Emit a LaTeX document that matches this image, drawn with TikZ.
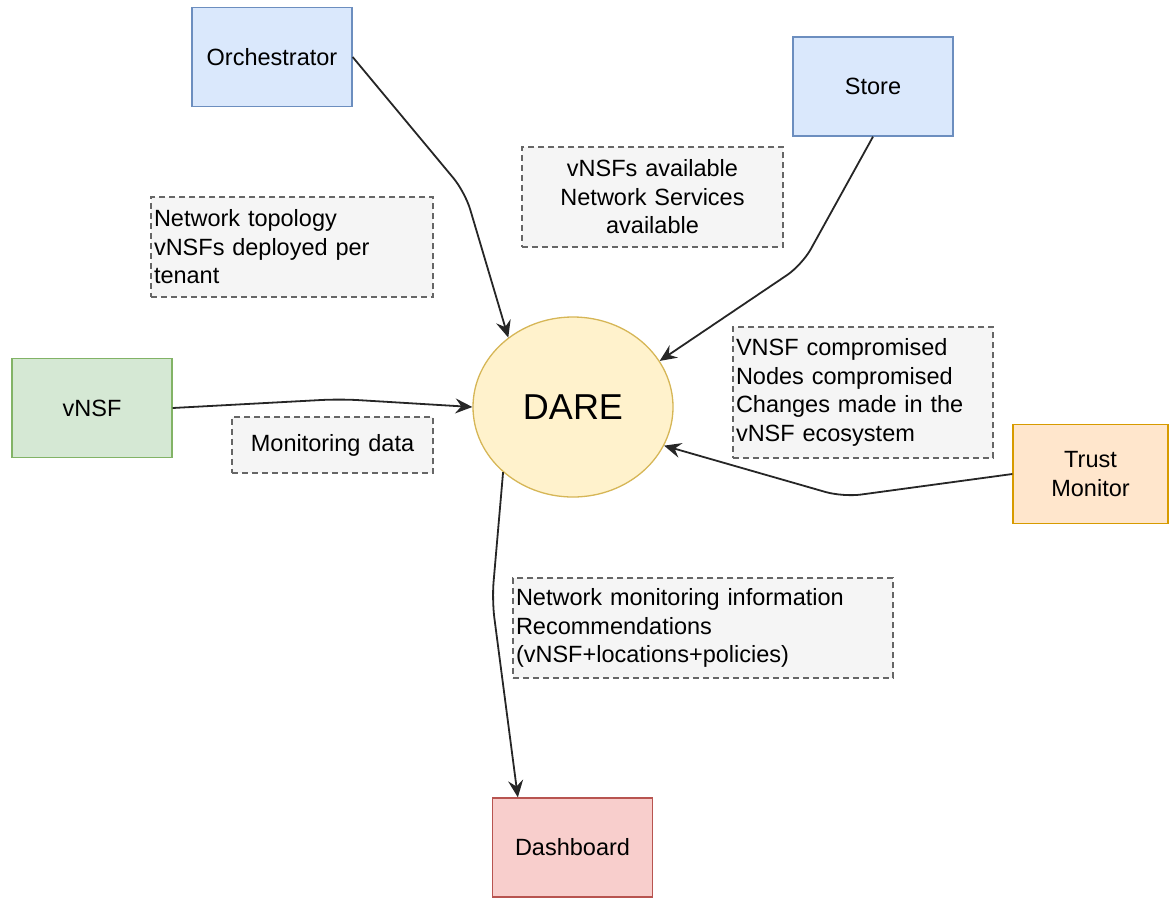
\documentclass[tikz,border=0pt]{standalone}
\usepackage{fontspec}
\setmainfont{Liberation Sans}
\usetikzlibrary{arrows.meta,shapes.geometric}
\definecolor{bleuFond}{HTML}{DAE8FC}
\definecolor{bleuBord}{HTML}{6C8EBF}
\definecolor{vertFond}{HTML}{D5E8D4}
\definecolor{vertBord}{HTML}{82B366}
\definecolor{orangeFond}{HTML}{FFE6CC}
\definecolor{orangeBord}{HTML}{D79B00}
\definecolor{rougeFond}{HTML}{F8CECC}
\definecolor{rougeBord}{HTML}{B85450}
\definecolor{jauneFond}{HTML}{FFF2CC}
\definecolor{jauneBord}{HTML}{D6B656}
\definecolor{noteFond}{HTML}{F5F5F5}
\definecolor{noteBord}{HTML}{666666}
\begin{document}
\begin{tikzpicture}[x=1pt,y=-1pt]
% Styles (MODIFIABLES)
\def\Police{\fontsize{23.5}{28.5}\selectfont}
\tikzstyle{fleche}=[-{Stealth[length=17pt,width=15pt,inset=6pt]},line width=1.8pt,rounded corners=18pt,draw=black!85]
\tikzstyle{boite}=[draw,line width=1.3pt,minimum width=160pt,minimum height=99pt,align=center,font=\Police]
\tikzstyle{note}=[draw=noteBord,fill=noteFond,dash pattern=on 6pt off 4pt,line width=1.2pt,inner sep=3pt,font=\Police]
% Cadre
\useasboundingbox (0,0) rectangle (1169,897);
% Noeuds (MODIFIABLES)
\node[ellipse,draw=jauneBord,fill=jauneFond,line width=1.3pt,minimum width=200pt,minimum height=180pt,inner sep=0pt,font=\fontsize{36}{40}\selectfont] (dare) at (573,407) {DARE};
\node[boite,fill=bleuFond,draw=bleuBord] (orch) at (272,57) {Orchestrator};
\node[boite,fill=bleuFond,draw=bleuBord] (store) at (873,86.5) {Store};
\node[boite,fill=vertFond,draw=vertBord] (vnsf) at (92,408) {vNSF};
\node[boite,fill=orangeFond,draw=orangeBord,minimum width=155pt] (trust) at (1090.5,474) {Trust\\Monitor};
\node[boite,fill=rougeFond,draw=rougeBord] (dash) at (572.5,847.5) {Dashboard};
% Notes (MODIFIABLES)
\node[note,text width=276pt,minimum height=100pt,align=left] (topo) at (292,247) {Network topology\\vNSFs deployed per\\tenant};
\node[note,text width=255pt,minimum height=100pt,align=center] (dispo) at (652.5,197) {vNSFs available\\Network Services\\available};
\node[note,text width=195pt,minimum height=56pt,align=center] (mesures) at (332.5,445) {Monitoring data};
\node[note,text width=254pt,minimum height=131pt,align=left] (compro) at (863,392.5) {VNSF compromised\\Nodes compromised\\Changes made in the\\vNSF ecosystem};
\node[note,text width=374pt,minimum height=100pt,align=left] (infos) at (703,628) {Network monitoring information\\Recommendations\\(vNSF+locations+policies)};
% Coudes
\coordinate (cOrch) at (465,192);
\coordinate (cStore) at (802,265);
\coordinate (cVnsf) at (340,399);
\coordinate (cTrust) at (843,497);
\coordinate (cDash) at (492,600);
% Arcs (MODIFIABLES : Styles)
\draw[fleche] (orch.east)--(cOrch)--(dare.133);
\draw[fleche] (store.south)--(cStore)--(dare.28);
\draw[fleche] (vnsf.east)--(cVnsf)--(dare.west);
\draw[fleche] (trust.west)--(cTrust)--(dare.-23);
\draw[fleche] (dare.223)--(cDash)--([xshift=26pt]dash.north west);
\end{tikzpicture}
\end{document}
